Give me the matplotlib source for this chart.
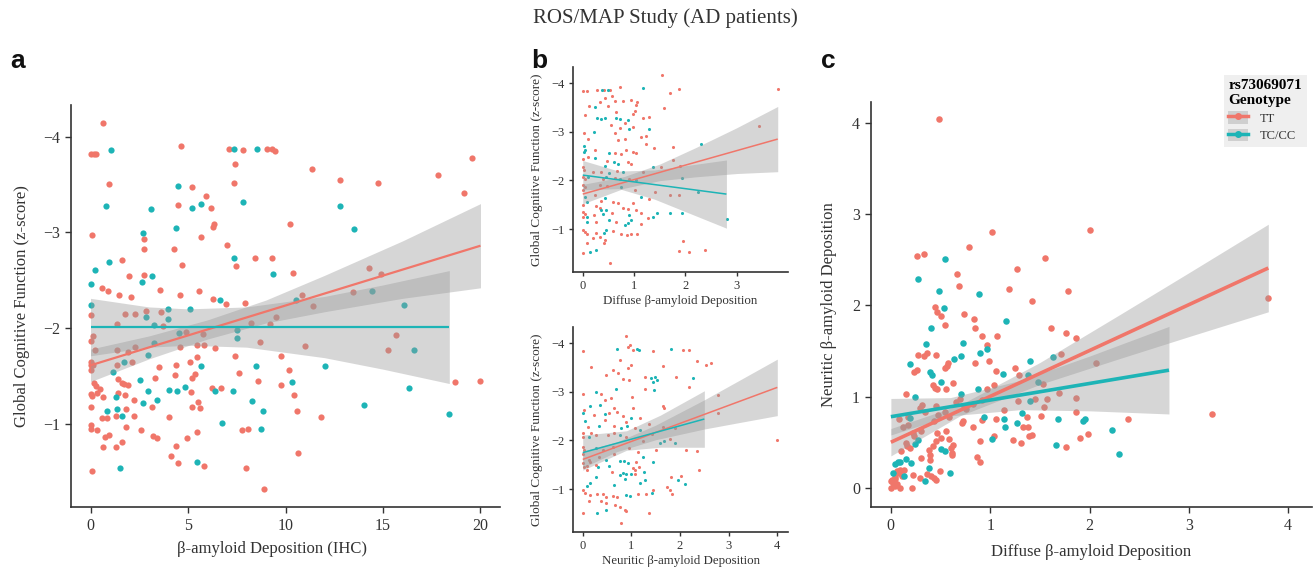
import numpy as np
import matplotlib
matplotlib.use("Agg")
import matplotlib.pyplot as plt
from matplotlib.lines import Line2D
from matplotlib.patches import Patch

plt.rcParams['font.family'] = ['Liberation Serif', 'DejaVu Serif']
plt.rcParams['axes.unicode_minus'] = True

RED = '#F0766A'
TEAL = '#1DB4B6'
BAND = '#9a9a9a'

# ---------------- Panel a : IHC amyloid vs cognition ----------------
a_tt = [(0.65,-4.14),(0,-3.82),(0.17,-3.82),(0.29,-3.82),(4.62,-3.9),(7.08,-3.87),(7.84,-3.86),(9.04,-3.87),(9.29,-3.87),(9.46,-3.85),(7.4,-3.71),(19.54,-3.78),(11.37,-3.66),(17.83,-3.6),(12.82,-3.55),(14.73,-3.51),(0.94,-3.5),(7.38,-3.51),(5.23,-3.47),(19.15,-3.41),(5.9,-3.38),(4.47,-3.29),(6.2,-3.25),(10.21,-3.09),(6.33,-3.09),(6.27,-3.06),(0.07,-2.97),(5.69,-2.95),(2.73,-2.93),(7.02,-2.87),(2.73,-2.83),(4.26,-2.83),(8.44,-2.73),(9.33,-2.73),(1.59,-2.71),(4.67,-2.66),(7.45,-2.65),(14.27,-2.63),(10.38,-2.57),(14.92,-2.56),(2.73,-2.55),(1.98,-2.54),(0.6,-2.42),(0.9,-2.39),(3.58,-2.4),(5.58,-2.39),(13.44,-2.38),(1.45,-2.34),(4.59,-2.34),(2.06,-2.32),(10.84,-2.34),(6.29,-2.3),(6.97,-2.25),(7.91,-2.26),(11.41,-2.23),(2.85,-2.18),(0,-2.14),(1.79,-2.15),(2.27,-2.15),(3.63,-2.17),(9.51,-2.11),(1.38,-2.04),(8.22,-2.05),(9.21,-2.04),(3.7,-2.02),(4.91,-1.96),(5.76,-1.94),(0.14,-1.92),(15.65,-1.93),(0,-1.86),(8.68,-1.85),(5.46,-1.82),(5.83,-1.82),(11.0,-1.81),(4.6,-1.8),(2.27,-1.8),(6.38,-1.79),(1.38,-1.77),(15.26,-1.77),(0.24,-1.77),(1.91,-1.75),(7.42,-1.71),(9.75,-1.71),(5.47,-1.7),(2.15,-1.65),(0,-1.65),(5.08,-1.64),(0,-1.61),(0.14,-1.61),(0,-1.56),(3.51,-1.59),(4.4,-1.61),(1.35,-1.61),(10.2,-1.56),(5.34,-1.52),(7.62,-1.53),(4.33,-1.51),(1.43,-1.47),(3.32,-1.48),(5.2,-1.48),(8.61,-1.45),(18.7,-1.44),(19.97,-1.45),(0.17,-1.43),(0.26,-1.39),(1.62,-1.43),(1.74,-1.41),(1.94,-1.4),(9.77,-1.4),(0.48,-1.36),(6.24,-1.37),(6.7,-1.37),(5.17,-1.33),(0,-1.31),(0.1,-1.29),(0.34,-1.32),(0.66,-1.28),(1.43,-1.32),(1.76,-1.3),(10.45,-1.3),(2.22,-1.25),(5.49,-1.23),(3.15,-1.18),(5.23,-1.17),(5.63,-1.16),(0,-1.18),(1.81,-1.15),(10.61,-1.13),(1.3,-1.08),(2.22,-1.08),(4.02,-1.07),(11.8,-1.07),(0.6,-1.06),(0.85,-1.06),(0,-0.99),(0.03,-0.95),(0.34,-0.93),(1.81,-0.97),(8.1,-0.95),(7.78,-0.93),(2.59,-0.93),(5.47,-0.91),(3.22,-0.87),(3.41,-0.85),(0.94,-0.88),(0.72,-0.86),(4.93,-0.85),(0.65,-0.76),(1.33,-0.76),(1.64,-0.81),(4.38,-0.77),(10.66,-0.69),(4.14,-0.66),(4.48,-0.59),(5.83,-0.56),(7.98,-0.54),(0.1,-0.51),(8.9,-0.32)]
a_tc = [(1.07,-3.86),(7.37,-3.87),(8.56,-3.87),(4.48,-3.48),(7.83,-3.32),(5.69,-3.3),(0.82,-3.28),(12.79,-3.28),(3.1,-3.24),(5.23,-3.25),(4.36,-3.05),(13.5,-3.03),(2.68,-2.99),(7.37,-2.73),(0.94,-2.69),(0.24,-2.61),(9.38,-2.56),(3.15,-2.54),(2.63,-2.48),(0,-2.46),(14.46,-2.39),(6.65,-2.29),(10.52,-2.29),(0,-2.24),(16.1,-2.24),(3.99,-2.2),(5.12,-2.2),(3.96,-2.09),(2.83,-2.12),(3.27,-2.03),(7.49,-1.98),(4.54,-1.95),(7.52,-1.9),(3.24,-1.84),(16.59,-1.77),(2.95,-1.72),(1.72,-1.65),(5.66,-1.6),(8.51,-1.6),(12.02,-1.6),(1.14,-1.54),(2.54,-1.46),(10.35,-1.44),(2.93,-1.34),(16.35,-1.37),(4.01,-1.35),(4.45,-1.34),(4.84,-1.38),(6.38,-1.34),(7.31,-1.34),(1.3,-1.28),(3.41,-1.25),(8.26,-1.24),(2.71,-1.22),(14.02,-1.2),(1.36,-1.15),(0.85,-1.13),(8.83,-1.13),(1.62,-1.08),(18.41,-1.1),(6.75,-1.01),(8.73,-0.94),(5.47,-0.6),(1.52,-0.54)]
a_fit_tt_x = [0, 20];   a_fit_tt_y = [-1.61, -2.86]
a_band_tt_x = [0, 3, 6, 9, 12, 16, 20];  a_band_tt_hw = [0.17, 0.12, 0.10, 0.12, 0.19, 0.30, 0.44]
a_fit_tc_x = [0, 18.4]; a_fit_tc_y = [-2.01, -2.01]
a_band_tc_x = [0, 3, 5, 8, 12, 15, 18.4]; a_band_tc_hw = [0.30, 0.21, 0.19, 0.21, 0.32, 0.44, 0.59]

# ---------------- Panel b (top) : diffuse amyloid vs cognition ----------------
bt_tt = [(0,-3.84),(0.08,-3.84),(0.27,-3.86),(0.41,-3.86),(0.53,-3.86),(0.72,-3.91),(1.55,-4.17),(1.87,-3.88),(1.7,-3.79),(3.8,-3.88),(0.44,-3.69),(0.57,-3.74),(0.62,-3.64),(0.33,-3.62),(0.95,-3.66),(1.06,-3.61),(1.04,-3.54),(0.78,-3.64),(0.13,-3.52),(0.49,-3.52),(1.59,-3.49),(1.01,-3.42),(0.98,-3.37),(0.65,-3.4),(0.05,-3.35),(1.17,-3.28),(1.29,-3.31),(0.82,-3.18),(0.55,-3.14),(0.72,-3.07),(0.98,-3.1),(3.44,-3.11),(0.03,-2.98),(0.62,-2.98),(1.13,-2.9),(1.24,-2.92),(0.1,-2.85),(0.68,-2.83),(0.83,-2.86),(1.24,-2.74),(1.38,-2.66),(1.76,-2.68),(0.23,-2.63),(0.85,-2.63),(0.62,-2.57),(0.74,-2.54),(0.98,-2.58),(1.04,-2.56),(0.1,-2.49),(0.47,-2.4),(0,-2.44),(1.76,-2.42),(0.88,-2.38),(0.95,-2.34),(1.53,-2.28),(1.89,-2.3),(0,-2.28),(0.03,-2.22),(0.2,-2.18),(0.35,-2.18),(0.67,-2.19),(1.17,-2.18),(0,-2.08),(0.05,-2.02),(0.39,-2.03),(0.62,-2.06),(0.91,-2.02),(0,-1.91),(0.05,-1.87),(0,-1.8),(0.33,-1.91),(0.48,-1.89),(1.01,-1.8),(1.4,-1.77),(1.7,-1.7),(1.87,-1.71),(0.23,-1.71),(0.36,-1.58),(0.59,-1.56),(0.68,-1.53),(0.98,-1.53),(1.3,-1.61),(0.01,-1.49),(0.26,-1.48),(0.33,-1.44),(0.78,-1.43),(0.88,-1.41),(0,-1.36),(0.05,-1.31),(0.01,-1.25),(0.22,-1.3),(0.57,-1.34),(1.04,-1.39),(1.14,-1.34),(1.27,-1.22),(0.26,-1.15),(0.65,-1.15),(1.14,-1.1),(0,-0.98),(0.05,-0.95),(0.08,-0.91),(0.26,-0.93),(0.59,-0.96),(0.75,-0.91),(0.87,-0.89),(0.95,-0.91),(1.06,-0.91),(0.2,-0.81),(0.33,-0.84),(0.44,-0.77),(0.41,-0.71),(0.08,-0.71),(0,-0.5),(1.96,-0.76),(1.87,-0.55),(2.07,-0.53),(2.39,-0.58),(0.54,-0.31)]
bt_tc = [(0.37,-3.85),(0.5,-3.85),(1.17,-3.9),(0.24,-3.51),(0.27,-3.28),(0.35,-3.26),(0.44,-3.29),(0.65,-3.29),(0.73,-3.26),(0.88,-3.25),(0.22,-3.0),(0.91,-3.05),(1.29,-3.05),(2.3,-2.74),(0.02,-2.7),(0.05,-2.63),(0.03,-2.58),(0.52,-2.56),(0.24,-2.47),(0.61,-2.37),(0.68,-2.34),(1.37,-2.28),(0.44,-2.3),(0.52,-2.16),(0.78,-2.17),(0.1,-2.08),(0.46,-2.08),(0.72,-2.04),(1.04,-2.01),(1.93,-2.06),(0.75,-1.87),(2.25,-1.77),(0.05,-1.67),(0.44,-1.63),(1.14,-1.67),(0.08,-1.56),(0.35,-1.39),(0.46,-1.39),(0.08,-1.25),(0.39,-1.32),(1.44,-1.34),(1.37,-1.25),(1.71,-1.34),(1.94,-1.34),(0.91,-1.29),(2.82,-1.2),(0.08,-1.15),(0.52,-1.19),(0.88,-1.12),(0.83,-1.08),(0.95,-1.19),(0.46,-0.98),(0.42,-0.93),(0.26,-0.57),(0.14,-0.53)]
bt_fit_tt_x = [0, 3.8];  bt_fit_tt_y = [-1.72, -2.85]
bt_band_tt_x = [0, 0.8, 1.5, 2.2, 3.0, 3.8]; bt_band_tt_hw = [0.20, 0.12, 0.17, 0.30, 0.47, 0.67]
bt_fit_tc_x = [0, 2.8];  bt_fit_tc_y = [-2.11, -1.72]
bt_band_tc_x = [0, 0.7, 1.4, 2.1, 2.8]; bt_band_tc_hw = [0.30, 0.18, 0.30, 0.50, 0.70]

# ---------------- Panel b (bottom) : neuritic amyloid vs cognition ----------------
bb_tt = [(0,-3.83),(0.88,-4.15),(0.98,-3.97),(1.03,-3.85),(0.93,-3.91),(1.44,-3.84),(2.06,-3.86),(2.18,-3.86),(2.34,-3.64),(2.54,-3.55),(2.63,-3.6),(0.16,-3.51),(0.76,-3.66),(0.93,-3.49),(1.0,-3.54),(0.62,-3.45),(1.65,-3.52),(0.48,-3.35),(0.72,-3.38),(1.29,-3.3),(0.82,-3.26),(0.96,-3.25),(1.92,-3.3),(1.28,-3.05),(0,-2.96),(0.38,-2.96),(2.18,-3.09),(2.78,-2.94),(0.58,-2.88),(0.45,-2.83),(1.02,-2.9),(0.03,-2.63),(0.65,-2.66),(0.71,-2.59),(1.65,-2.7),(1.68,-2.66),(1.03,-2.66),(0.24,-2.52),(0.55,-2.56),(0.82,-2.5),(1.17,-2.46),(2.78,-2.56),(0.45,-2.42),(0.89,-2.37),(1.37,-2.34),(0.1,-2.27),(0.65,-2.3),(1.07,-2.25),(1.65,-2.28),(1.9,-2.25),(0,-2.15),(0,-2.08),(0.17,-2.16),(0.27,-2.12),(0.52,-2.11),(0.64,-2.15),(0.89,-2.08),(1.42,-2.13),(1.24,-1.98),(3.99,-2.01),(1.79,-2.02),(0,-1.87),(0.03,-1.8),(0.01,-1.72),(0.41,-1.8),(0.34,-1.67),(0.62,-1.87),(0.65,-1.73),(0.96,-1.84),(1.13,-1.77),(1.51,-1.8),(2.13,-1.8),(2.34,-1.79),(0.12,-1.6),(0.14,-1.55),(1.1,-1.56),(0,-1.53),(0.03,-1.46),(0.08,-1.48),(0.08,-1.39),(0.27,-1.49),(0.6,-1.36),(1.03,-1.43),(1.07,-1.39),(1.15,-1.45),(1.07,-1.32),(1.82,-1.25),(2.39,-1.39),(0,-0.98),(0.05,-0.93),(0.14,-0.88),(1.13,-0.91),(1.31,-0.91),(0.41,-0.9),(0.48,-0.84),(0.3,-0.9),(0.62,-0.86),(0.7,-0.84),(1.44,-0.99),(1.74,-1.05),(1.79,-0.98),(2.03,-1.27),(1.84,-0.9),(0.12,-0.76),(0.38,-0.76),(0.48,-0.71),(0.67,-0.67),(0.76,-0.64),(0.86,-0.58),(0.89,-0.55),(1.36,-0.52),(0,-0.5),(0.79,-0.31)]
bb_tc = [(0.7,-3.88),(1.12,-3.88),(1.15,-3.86),(1.82,-3.88),(1.41,-3.29),(1.49,-3.3),(1.53,-3.25),(1.44,-3.21),(2.27,-3.28),(0.69,-3.05),(1.46,-3.04),(0.27,-2.99),(0.14,-2.7),(0.36,-2.73),(0,-2.57),(0.45,-2.54),(1.0,-2.47),(0.05,-2.39),(0.34,-2.3),(0.79,-2.25),(0.91,-2.3),(1.17,-2.22),(0.12,-2.08),(0.76,-2.11),(1.68,-1.98),(1.58,-1.94),(1.89,-1.94),(0.27,-1.84),(1.24,-1.65),(0.48,-1.6),(0.76,-1.58),(0.85,-1.58),(0.93,-1.54),(1.44,-1.56),(0.31,-1.45),(0.55,-1.48),(1.26,-1.36),(0.82,-1.34),(0.76,-1.29),(0.89,-1.32),(1.0,-1.31),(0.27,-1.25),(0.14,-1.12),(0.08,-1.07),(0.65,-1.08),(0.86,-1.21),(1.27,-1.19),(1.17,-1.12),(0.89,-0.88),(0.98,-0.86),(1.43,-0.93),(1.96,-1.19),(2.11,-1.1),(0.3,-0.52),(0.48,-0.58)]
bb_fit_tt_x = [0, 4.0];  bb_fit_tt_y = [-1.61, -3.09]
bb_band_tt_x = [0, 0.7, 1.5, 2.5, 3.2, 4.0]; bb_band_tt_hw = [0.17, 0.10, 0.15, 0.30, 0.43, 0.58]
bb_fit_tc_x = [0, 2.5];  bb_fit_tc_y = [-1.75, -2.44]
bb_band_tc_x = [0, 0.9, 1.6, 2.5]; bb_band_tc_hw = [0.36, 0.20, 0.33, 0.58]

# ---------------- Panel c : diffuse vs neuritic amyloid ----------------
c_tt = [(0.48,4.04),(1.02,2.8),(2.0,2.83),(0.79,2.64),(0.26,2.54),(0.33,2.56),(1.55,2.52),(1.27,2.4),(0.67,2.34),(0.69,2.21),(1.19,2.18),(1.78,2.16),(1.42,2.05),(0.44,1.98),(0.46,1.93),(0.5,1.88),(0.74,1.91),(0.84,1.85),(0.54,1.78),(0.85,1.75),(1.61,1.75),(1.76,1.7),(0.92,1.67),(1.07,1.67),(1.86,1.64),(0.97,1.57),(0.27,1.46),(0.33,1.45),(0.36,1.48),(0.45,1.46),(1.71,1.47),(0.58,1.37),(0.55,1.31),(0.57,1.34),(0.85,1.37),(0.99,1.39),(2.07,1.37),(1.25,1.31),(1.06,1.28),(0.23,1.27),(0.26,1.29),(1.29,1.24),(0.42,1.13),(0.44,1.1),(0.46,1.08),(0.63,1.15),(1.04,1.13),(1.53,1.14),(0.56,1.08),(0.15,1.03),(0.97,1.08),(1.69,1.04),(1.86,0.98),(0.7,0.97),(0.66,0.94),(0.31,0.91),(0.29,0.88),(0.45,0.9),(0.74,0.9),(0.92,0.96),(0.83,0.92),(1.28,0.95),(1.45,0.97),(1.57,0.97),(0.34,0.83),(0.47,0.8),(0.55,0.83),(0.59,0.78),(0.76,0.86),(1.54,0.89),(1.06,0.75),(1.51,0.79),(1.86,0.83),(3.23,0.81),(2.39,0.76),(0.08,0.76),(0.17,0.78),(0.43,0.73),(0.73,0.73),(0.92,0.74),(1.37,0.78),(1.14,0.85),(0.72,0.71),(1.33,0.67),(1.38,0.67),(0.83,0.67),(0.12,0.67),(0.17,0.69),(0.46,0.6),(0.3,0.62),(0.56,0.62),(0.22,0.6),(0.23,0.57),(1.39,0.57),(1.42,0.58),(1.98,0.59),(1.9,0.55),(0.5,0.55),(0.45,0.51),(0.42,0.46),(0.59,0.54),(0.63,0.47),(0.61,0.44),(1.04,0.57),(1.23,0.53),(1.31,0.49),(0.15,0.49),(0.9,0.51),(1.76,0.45),(0.16,0.46),(0.19,0.44),(0.62,0.38),(0.38,0.42),(0.1,0.4),(0.3,0.33),(0.39,0.36),(0.62,0.36),(0.87,0.34),(0.9,0.28),(0.39,0.3),(0.13,0.2),(0.06,0.19),(0.08,0.16),(0.09,0.2),(0.11,0.13),(0.04,0.12),(0.01,0.09),(0.02,0.05),(0.04,0.02),(0.06,0.04),(0,0),(0.09,0),(0.22,0.14),(0.29,0.11),(0.21,0.0),(0.36,0.15),(0.4,0.13),(0.43,0.11),(0.49,0.18),(0.45,0.09),(3.8,2.08),(0,0.07),(0.04,0.1)]
c_tc = [(0.55,2.51),(0.27,2.29),(0.48,2.16),(0.89,2.12),(0.53,1.97),(1.16,1.83),(0.4,1.75),(0.35,1.58),(0.73,1.59),(0.97,1.52),(0.71,1.45),(0.9,1.48),(1.63,1.43),(0.64,1.41),(1.4,1.39),(0.19,1.36),(0.39,1.27),(0.41,1.24),(1.13,1.25),(1.38,1.24),(0.5,1.16),(1.48,1.16),(0.24,1.0),(0.71,1.03),(0.88,1.08),(1.4,0.95),(0.94,0.78),(1.14,0.76),(1.32,0.82),(1.68,0.76),(1.95,0.76),(1.93,0.73),(0.19,0.77),(1.27,0.71),(1.15,0.67),(2.23,0.63),(1.02,0.54),(0.27,0.53),(0.24,0.48),(1.66,0.47),(0.5,0.43),(0.55,0.4),(2.3,0.37),(0.04,0.26),(0.07,0.28),(0.09,0.28),(0.15,0.32),(0.2,0.27),(0.38,0.22),(0.6,0.16),(0.13,0.13),(0.02,0.16),(0.34,0.07)]
c_fit_tt_x = [0, 3.8];  c_fit_tt_y = [0.50, 2.41]
c_band_tt_x = [0, 0.7, 1.5, 2.3, 3.0, 3.8]; c_band_tt_hw = [0.15, 0.06, 0.12, 0.24, 0.35, 0.48]
c_fit_tc_x = [0, 2.8];  c_fit_tc_y = [0.78, 1.29]
c_band_tc_x = [0, 0.6, 1.3, 2.0, 2.8]; c_band_tc_hw = [0.20, 0.10, 0.16, 0.30, 0.48]

labels = ['TT', 'TC/CC']
legend_title = 'rs73069071\nGenotype'

W, H = 1316, 575
fig = plt.figure(figsize=(W/100, H/100), dpi=100)

def px_axes(l, t, r, b):
    return fig.add_axes([l/W, 1-b/H, (r-l)/W, (b-t)/H])

def style(ax, fs):
    for s in ['top', 'right']:
        ax.spines[s].set_visible(False)
    for s in ['left', 'bottom']:
        ax.spines[s].set_color('#333333')
        ax.spines[s].set_linewidth(1.2)
    ax.tick_params(direction='out', length=4, width=1, color='#333333',
                   labelsize=fs, labelcolor='#333333', pad=4)

def draw(ax, tt, tc, fits, s, lw):
    tt = np.array(tt); tc = np.array(tc)
    ax.scatter(tt[:, 0], tt[:, 1], s=s, color=RED, lw=0, zorder=2)
    ax.scatter(tc[:, 0], tc[:, 1], s=s, color=TEAL, lw=0, zorder=2)
    for (fx, fy, bx, bhw, col) in fits:
        bx = np.array(bx, float); bhw = np.array(bhw, float)
        ctr = np.interp(bx, fx, fy)
        ax.fill_between(bx, ctr - bhw, ctr + bhw, color=BAND, alpha=0.4, lw=0, zorder=3)
    for (fx, fy, bx, bhw, col) in fits:
        ax.plot(fx, fy, color=col, lw=lw, zorder=4, solid_capstyle='butt')

# Panel a
axa = px_axes(71, 105, 500, 507)
draw(axa, a_tt, a_tc, [(a_fit_tt_x, a_fit_tt_y, a_band_tt_x, a_band_tt_hw, RED),
                       (a_fit_tc_x, a_fit_tc_y, a_band_tc_x, a_band_tc_hw, TEAL)], 20, 1.6)
axa.set_xlim(-1, 21); axa.set_ylim(-0.13, -4.33)
axa.set_xticks([0, 5, 10, 15, 20]); axa.set_yticks([-4, -3, -2, -1])
style(axa, 11.5)
axa.set_xlabel('β-amyloid Deposition (IHC)', fontsize=12, color='#333333', labelpad=7)
axa.xaxis.set_label_coords((272 - 71) / 429, -0.085)
axa.set_ylabel('Global Cognitive Function (z-score)', fontsize=12, color='#333333', labelpad=9)

# Panel b top
axb1 = px_axes(573, 67, 788, 272)
draw(axb1, bt_tt, bt_tc, [(bt_fit_tt_x, bt_fit_tt_y, bt_band_tt_x, bt_band_tt_hw, RED),
                          (bt_fit_tc_x, bt_fit_tc_y, bt_band_tc_x, bt_band_tc_hw, TEAL)], 5, 1.1)
axb1.set_xlim(-0.19, 4.0); axb1.set_ylim(-0.12, -4.33)
axb1.set_xticks([0, 1, 2, 3]); axb1.set_yticks([-4, -3, -2, -1])
style(axb1, 9)
axb1.tick_params(length=3, pad=3)
axb1.set_xlabel('Diffuse β-amyloid Deposition', fontsize=9.3, color='#333333', labelpad=2)
axb1.set_ylabel('Global Cognitive Function (z-score)', fontsize=9.5, color='#333333', labelpad=6)

# Panel b bottom
axb2 = px_axes(573, 327, 788, 532)
draw(axb2, bb_tt, bb_tc, [(bb_fit_tt_x, bb_fit_tt_y, bb_band_tt_x, bb_band_tt_hw, RED),
                          (bb_fit_tc_x, bb_fit_tc_y, bb_band_tc_x, bb_band_tc_hw, TEAL)], 5, 1.1)
axb2.set_xlim(-0.2, 4.22); axb2.set_ylim(-0.12, -4.33)
axb2.set_xticks([0, 1, 2, 3, 4]); axb2.set_yticks([-4, -3, -2, -1])
style(axb2, 9)
axb2.tick_params(length=3, pad=3)
axb2.set_xlabel('Neuritic β-amyloid Deposition', fontsize=9.3, color='#333333', labelpad=2)
axb2.set_ylabel('Global Cognitive Function (z-score)', fontsize=9.5, color='#333333', labelpad=6)

# Panel c
axc = px_axes(871, 102, 1312, 507)
draw(axc, c_tt, c_tc, [(c_fit_tt_x, c_fit_tt_y, c_band_tt_x, c_band_tt_hw, RED),
                       (c_fit_tc_x, c_fit_tc_y, c_band_tc_x, c_band_tc_hw, TEAL)], 22, 2.6)
axc.set_xlim(-0.2, 4.24); axc.set_ylim(-0.21, 4.23)
axc.set_xticks([0, 1, 2, 3, 4]); axc.set_yticks([0, 1, 2, 3, 4])
style(axc, 11.5)
axc.set_xlabel('Diffuse β-amyloid Deposition', fontsize=12, color='#333333', labelpad=7)
axc.set_ylabel('Neuritic β-amyloid Deposition', fontsize=12, color='#333333', labelpad=11)

handles = [(Patch(facecolor='#cfcfcf', edgecolor='none'),
            Line2D([], [], color=c, lw=2.5, marker='o', markersize=4))
           for c in (RED, TEAL)]
leg = fig.legend(handles, labels, title=legend_title, loc='upper left',
                 bbox_to_anchor=(1224/W, 1-75/H), frameon=True, fontsize=9,
                 title_fontproperties={'weight': 'bold', 'size': 11, 'family': 'Liberation Serif'},
                 alignment='left', handlelength=1.6, handleheight=1.2, handletextpad=0.9,
                 labelspacing=0.3, borderpad=0.35, borderaxespad=0, fancybox=False)
leg.get_frame().set_facecolor('#ececec')
leg.get_frame().set_edgecolor('none')
for t in leg.get_texts():
    t.set_color('#333333')

# Title and panel letters
fig.text(665/W, 1-18/H, 'ROS/MAP Study (AD patients)', ha='center', va='center', fontsize=15, color='#333333')
for lab, x in (('a', 10), ('b', 531), ('c', 821)):
    fig.text(x/W, 1-61/H, lab, ha='left', va='center', fontsize=19, fontweight='bold',
             family=['Liberation Sans', 'DejaVu Sans'], color='#111111')

fig.savefig('out.png', dpi=100)
